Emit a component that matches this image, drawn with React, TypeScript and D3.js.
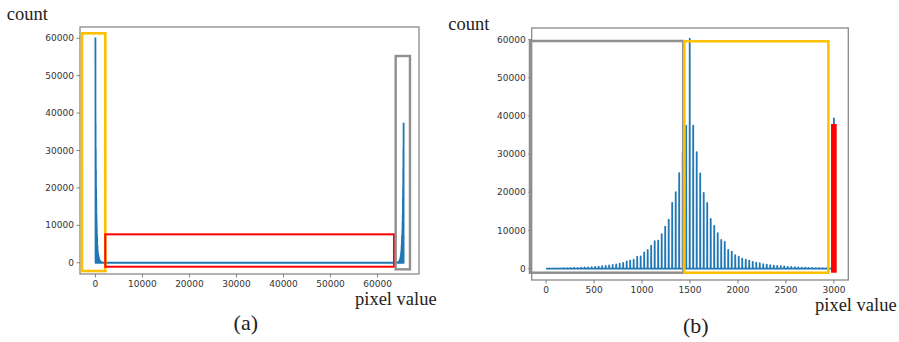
import * as d3 from 'd3';

const W = 899;
const H = 342;

// tick labels
const yTicks = [0, 10000, 20000, 30000, 40000, 50000, 60000];
const aXTicks = [0, 10000, 20000, 30000, 40000, 50000, 60000];
const bXTicks = [0, 500, 1000, 1500, 2000, 2500, 3000];

// histogram spikes; bins are ~36.5 apart
const peakCount = 60200;
const binStep = 36.5;
const centerB = 1497;
const leftSide = [
  37400, 30500, 25000, 20000, 17200, 12800, 11000, 9000, 7300, 7200,
  6000, 4900, 4200, 3200, 3100, 2300, 2100, 1900, 1500, 1300,
  1100, 950, 800, 700, 600, 520, 450, 380, 330, 280,
  240, 200, 170, 140, 120, 100, 80, 60, 50, 40,
];
const rightSide = [
  37400, 30500, 24900, 19800, 17200, 13000, 11200, 9300, 7500, 7000,
  4900, 4400, 3500, 3100, 2600, 2300, 2100, 1750, 1550, 1400,
  1150, 1050, 880, 790, 700, 610, 530, 450, 400, 350,
  300, 260, 220, 190, 160, 130, 110, 90, 70, 50,
];
const endSpikeB = 39500;
const maxPixelA = 65535;
const maxPixelB = 3000;

type Pt = [number, number];

const spike = (x: number, h: number): Pt[] => [[x - 1, 0], [x, h], [x + 1, 0]];

function seriesB(): Pt[] {
  const pts: Pt[] = [[0, 0]];
  for (let k = leftSide.length; k >= 1; k--) pts.push(...spike(centerB - k * binStep, leftSide[k - 1]));
  pts.push(...spike(centerB, peakCount));
  rightSide.forEach((h, i) => pts.push(...spike(centerB + (i + 1) * binStep, h)));
  pts.push([maxPixelB - 1, 0], [maxPixelB, endSpikeB]);
  return pts;
}

function seriesA(): Pt[] {
  const pts: Pt[] = [[0, peakCount]];
  rightSide.forEach((h, i) => pts.push(...spike((i + 1) * binStep, h)));
  for (let k = leftSide.length - 1; k >= 1; k--) pts.push(...spike(maxPixelA - k * binStep, leftSide[k]));
  pts.push([maxPixelA - 1, 0], [maxPixelA, leftSide[0]]);
  return pts;
}

interface Box { x0: number; x1: number; y0: number; y1: number; color: string; width?: number; fill?: boolean }
interface Frame { left: number; right: number; top: number; bottom: number }

function Panel({ frame, xDomain, xTicks, data, boxes }: {
  frame: Frame; xDomain: [number, number]; xTicks: number[]; data: Pt[]; boxes: Box[];
}) {
  const x = d3.scaleLinear().domain(xDomain).range([frame.left, frame.right]);
  const y = d3.scaleLinear().domain([-3000, 63000]).range([frame.bottom, frame.top]);
  const line = d3.line<Pt>().x(d => x(d[0])).y(d => y(d[1]));
  const fmt = d3.format('d');

  return (
    <g>
      <rect x={frame.left} y={frame.top} width={frame.right - frame.left} height={frame.bottom - frame.top}
        fill="none" stroke="#8a8a8a" strokeWidth={1.3} />
      {yTicks.map(t => (
        <g key={'y' + t}>
          <line x1={frame.left - 3.5} x2={frame.left} y1={y(t)} y2={y(t)} stroke="#666" strokeWidth={0.8} />
          <text x={frame.left - 6} y={y(t)} dy="0.35em" textAnchor="end" fontSize={9}
            fontFamily="DejaVu Sans, sans-serif" fill="#333">{fmt(t)}</text>
        </g>
      ))}
      {xTicks.map(t => (
        <g key={'x' + t}>
          <line x1={x(t)} x2={x(t)} y1={frame.bottom} y2={frame.bottom + 3.5} stroke="#666" strokeWidth={0.8} />
          <text x={x(t)} y={frame.bottom + 13} textAnchor="middle" fontSize={9}
            fontFamily="DejaVu Sans, sans-serif" fill="#333">{fmt(t)}</text>
        </g>
      ))}
      <path d={line(data) || ''} fill="none" stroke="#1f77b4" strokeWidth={1.8} strokeLinejoin="round" />
      {boxes.map((b, i) => (
        <rect key={i} x={x(b.x0)} y={y(b.y1)} width={x(b.x1) - x(b.x0)} height={y(b.y0) - y(b.y1)}
          fill={b.fill ? b.color : 'none'} stroke={b.fill ? 'none' : b.color} strokeWidth={b.width ?? 2.5} />
      ))}
    </g>
  );
}

const serif = 'Liberation Serif, Times New Roman, serif';

export default function App() {
  const boxesA: Box[] = [
    { x0: -2852, x1: 2103, y0: -2206, y1: 61316, color: '#ffc000', width: 2.6 },
    { x0: 2103, x1: 63489, y0: -1057, y1: 7602, color: '#ff0000', width: 2 },
    { x0: 63850, x1: 66891, y0: -1751, y1: 55250, color: '#8f8f8f', width: 2.4 },
  ];
  const boxesB: Box[] = [
    { x0: -168, x1: 1430, y0: -1091, y1: 59595, color: '#8f8f8f', width: 2.5 },
    { x0: 1441, x1: 2942, y0: -1091, y1: 59520, color: '#ffc000', width: 2.5 },
    { x0: 2970, x1: 3029, y0: -1091, y1: 37856, color: '#ff0000', fill: true },
  ];

  return (
    <svg width={W} height={H} style={{ position: 'fixed', left: 0, top: 0, background: '#fff' }}>
      <Panel frame={{ left: 80, right: 419, top: 27, bottom: 274 }} xDomain={[-3277, 68812]}
        xTicks={aXTicks} data={seriesA()} boxes={boxesA} />
      <Panel frame={{ left: 531.7, right: 848.3, top: 28, bottom: 280 }} xDomain={[-150, 3150]}
        xTicks={bXTicks} data={seriesB()} boxes={boxesB} />

      <g fontFamily={serif} fill="#222">
        <text x={6.7} y={20} fontSize={18.5}>count</text>
        <text x={355} y={304.5} fontSize={18.5}>pixel value</text>
        <text x={245.8} y={330} fontSize={22} textAnchor="middle">(a)</text>
        <text x={448.3} y={30} fontSize={18.5}>count</text>
        <text x={815} y={310.5} fontSize={18.5}>pixel value</text>
        <text x={695.8} y={332.5} fontSize={22} textAnchor="middle">(b)</text>
      </g>
    </svg>
  );
}
